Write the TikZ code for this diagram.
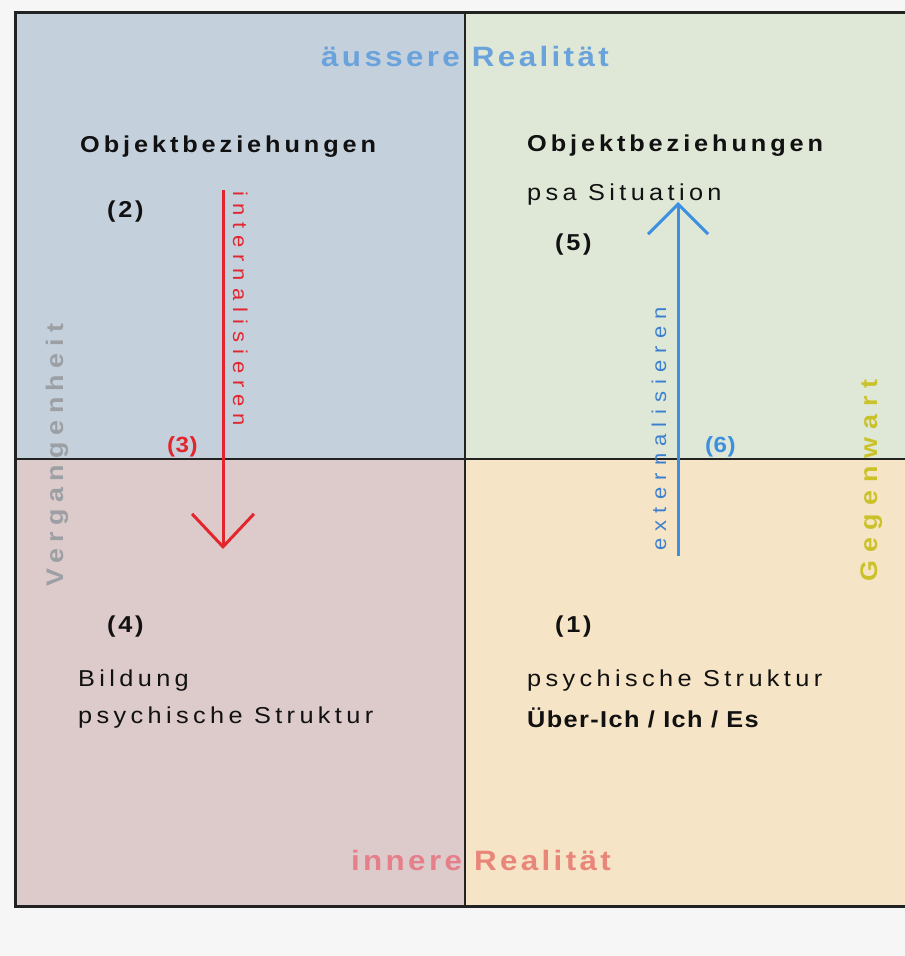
\documentclass[tikz,border=0pt]{standalone}
\usepackage{fontspec}
\setmainfont{Liberation Sans}
\newfontfamily\widefont[FakeStretch=1.1]{Liberation Sans}
\newfontfamily\medfont[FakeStretch=1.12]{Liberation Sans}
\usetikzlibrary{arrows.meta}
\definecolor{bgc}{HTML}{F6F6F6}
\definecolor{qtl}{HTML}{C4D1DD}
\definecolor{qtr}{HTML}{DFE8D7}
\definecolor{qbl}{HTML}{DDCBCC}
\definecolor{qbr}{HTML}{F5E4C5}
\definecolor{linec}{HTML}{222222}
\definecolor{redc}{HTML}{E3262E}
\definecolor{bluec}{HTML}{3D8FE0}
\definecolor{blued}{HTML}{3B80CF}
\definecolor{outerc}{HTML}{6AA3DC}
\definecolor{innerc}{HTML}{E57F8A}
\definecolor{innerd}{HTML}{E8867A}
\definecolor{pastc}{HTML}{9C9FA4}
\definecolor{presc}{HTML}{CBC22A}
\definecolor{txtc}{HTML}{111111}
\begin{document}
\begin{tikzpicture}[x=1pt,y=-1pt,
  lbl/.style={inner sep=0pt, anchor=base west, text=txtc},
  boldtxt/.style={lbl, font=\widefont\fontsize{23}{27}\selectfont\bfseries\addfontfeatures{LetterSpace=17}},
  regtxt/.style={lbl, font=\widefont\fontsize{23}{27}\selectfont\addfontfeatures{LetterSpace=19}},
  numtxt/.style={lbl, font=\widefont\fontsize{23}{27}\selectfont\bfseries\addfontfeatures{LetterSpace=12}},
  headtxt/.style={inner sep=0pt, anchor=base, font=\medfont\fontsize{28}{32}\selectfont\bfseries\addfontfeatures{LetterSpace=12}},
  divline/.style={linec, line width=2.2pt},
  borderline/.style={linec, line width=3pt},
  redarrow/.style={redc, line width=3pt, -{Straight Barb[length=33pt,width=62pt]}},
  bluearrow/.style={bluec, line width=3pt, -{Straight Barb[length=30pt,width=60pt]}},
]
\useasboundingbox (0,0) rectangle (905,956);
\fill[bgc] (0,0) rectangle (905,956);
% quadrants
\fill[qtl] (15,12) rectangle (465,459);
\fill[qtr] (465,12) rectangle (905,459);
\fill[qbl] (15,459) rectangle (465,906);
\fill[qbr] (465,459) rectangle (905,906);
% lines
\draw[divline] (465,12) -- (465,906);
\draw[divline] (15,459) -- (905,459);
\draw[borderline] (905,12) -- (15,12) -- (15,906) -- (905,906);

% headings
\node[headtxt, text=outerc] (outer) at (465,66) {äussere Realität};
\node[headtxt, text=innerc] (inner) at (481,870) {innere \textcolor{innerd}{Realität}};

% side labels
\node[inner sep=0pt, anchor=base west, rotate=90, text=pastc, font=\medfont\fontsize{24}{28}\selectfont\bfseries\addfontfeatures{LetterSpace=27}] (past) at (63,587) {Vergangenheit};
\node[inner sep=0pt, anchor=base west, rotate=90, text=presc, font=\medfont\fontsize{24}{28}\selectfont\bfseries\addfontfeatures{LetterSpace=33}] (present) at (877,582) {Gegenwart};

% top-left
\node[boldtxt] (ob1) at (80,152) {Objektbeziehungen};
\node[numtxt] (n2) at (107,217) {(2)};
% top-right
\node[boldtxt] (ob2) at (527,151) {Objektbeziehungen};
\node[regtxt] (psa) at (527,200) {psa Situation};
\node[numtxt] (n5) at (555,250) {(5)};
% bottom-left
\node[numtxt] (n4) at (107,632) {(4)};
\node[regtxt] (bild) at (78,686) {Bildung};
\node[regtxt] (psy1) at (78,723) {psychische Struktur};
% bottom-right
\node[numtxt] (n1) at (555,632) {(1)};
\node[regtxt] (psy2) at (527,686) {psychische Struktur};
\node[lbl, font=\widefont\fontsize{23}{27}\selectfont\bfseries\addfontfeatures{LetterSpace=6}] (ich) at (527,727) {Über-Ich / Ich / Es};

% arrows
\coordinate (r1) at (223,190);
\coordinate (r2) at (223,549);
\draw[redarrow] (r1) -- (r2);
\coordinate (b1) at (678,556);
\coordinate (b2) at (678,202);
\draw[bluearrow] (b1) -- (b2);

\node[inner sep=0pt, anchor=base west, rotate=-90, text=redc, font=\widefont\fontsize{20}{24}\selectfont\addfontfeatures{LetterSpace=35}] (intern) at (233,191) {internalisieren};
\node[numtxt, text=redc, font=\widefont\fontsize{22}{26}\selectfont\bfseries\addfontfeatures{LetterSpace=2}] (n3) at (167,452) {(3)};
\node[inner sep=0pt, anchor=base west, rotate=90, text=blued, font=\widefont\fontsize{20}{24}\selectfont\addfontfeatures{LetterSpace=36}] (extern) at (666,551) {externalisieren};
\node[numtxt, text=bluec, font=\widefont\fontsize{22}{26}\selectfont\bfseries\addfontfeatures{LetterSpace=2}] (n6) at (705,452) {(6)};
\end{tikzpicture}
\end{document}
